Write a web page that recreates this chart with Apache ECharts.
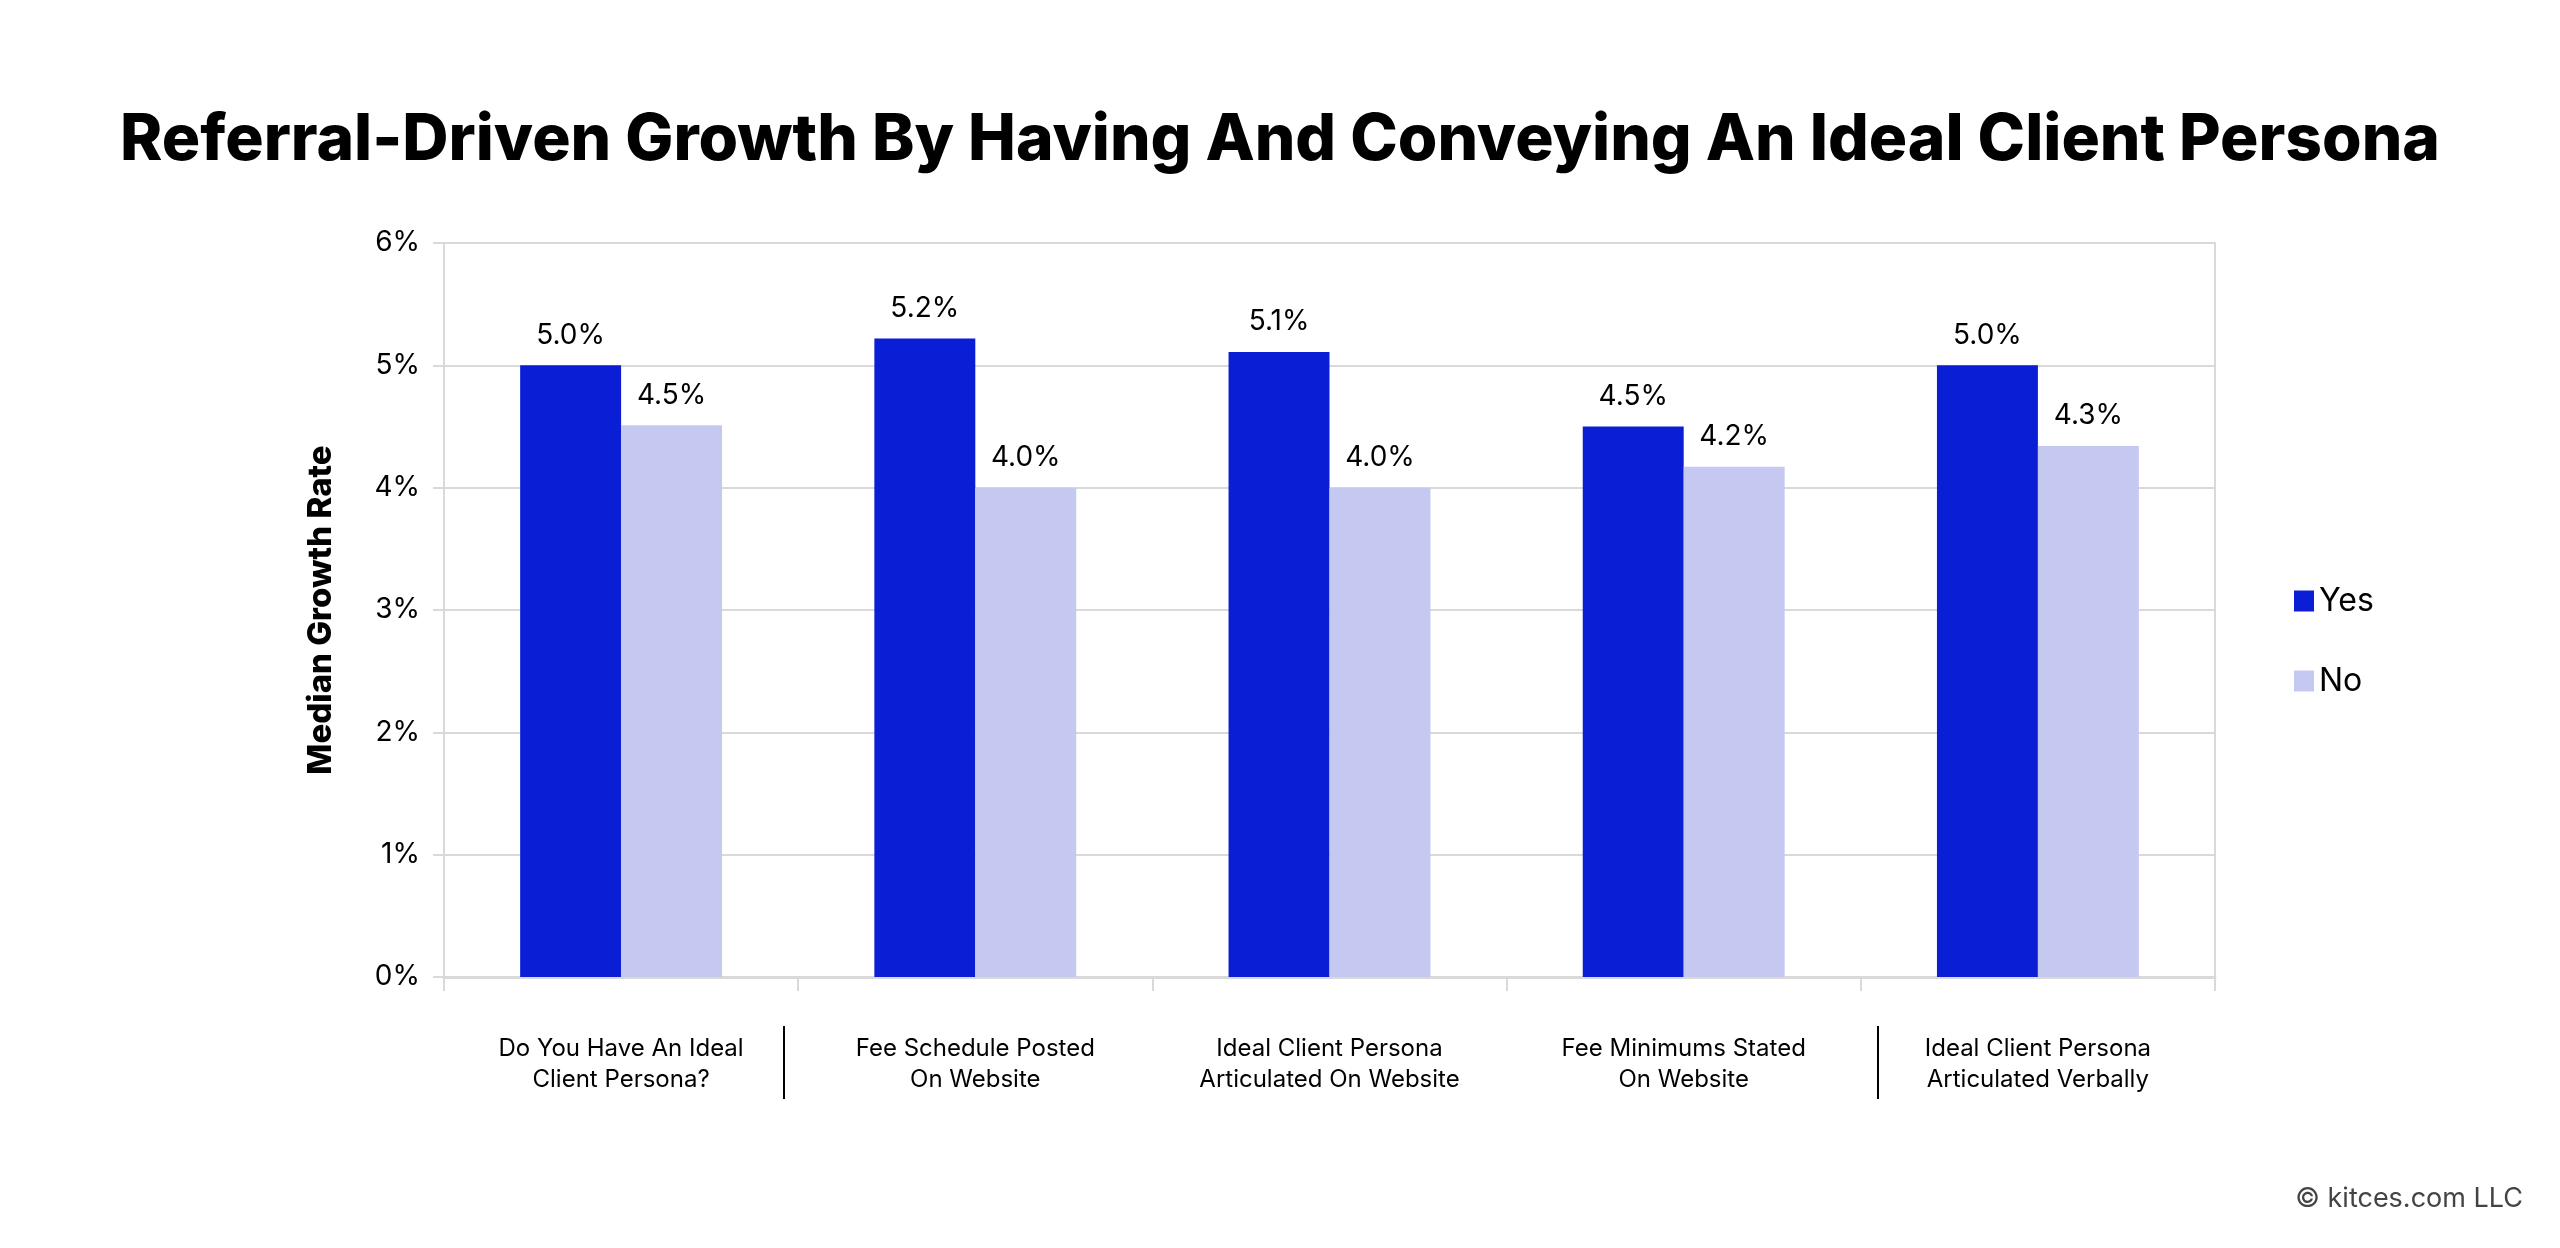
<!DOCTYPE html>
<html>
<head>
<meta charset="utf-8">
<title>Referral-Driven Growth</title>
<script src="https://cdn.jsdelivr.net/npm/echarts@6/dist/echarts.min.js"></script>
<style>
  html, body { margin: 0; padding: 0; background: #fff; }
  #chart { width: 2560px; height: 1248px; }
</style>
</head>
<body>
<div id="chart"></div>
<script>
// categories and values
const categories = [
  'Do You Have An Ideal\nClient Persona?',
  'Fee Schedule Posted\nOn Website',
  'Ideal Client Persona\nArticulated On Website',
  'Fee Minimums Stated\nOn Website',
  'Ideal Client Persona\nArticulated Verbally'
]
const yesValues = [5.0, 5.22, 5.11, 4.5, 5.0]
const noValues = [4.51, 4.0, 4.0, 4.17, 4.34]
const yTicks = [0, 1, 2, 3, 4, 5, 6]

const FONT = 'Inter, "Noto Sans", sans-serif'
const GRID_GRAY = '#d9d9d9'

let myChart = echarts.init(document.getElementById('chart'))

let barLabel = {
  show: true,
  position: 'top',
  distance: 16,
  color: '#000',
  fontFamily: FONT,
  fontSize: 28,
  formatter(p) {
    return p.value.toFixed(1) + '%'
  }
}

let option = {
  backgroundColor: '#fff',
  animation: false,
  title: {
    text: 'Referral-Driven Growth By Having And Conveying An Ideal Client Persona',
    left: 'center',
    top: 104,
    textStyle: {
      fontFamily: FONT,
      fontSize: 64,
      fontWeight: 800,
      color: '#000'
    }
  },
  legend: {
    orient: 'vertical',
    left: 2289,
    top: 580,
    itemWidth: 20,
    itemHeight: 21,
    itemGap: 48,
    icon: 'rect',
    textStyle: {
      fontFamily: FONT,
      fontSize: 32,
      color: '#000'
    },
    data: ['Yes', 'No']
  },
  grid: {
    left: 444,
    right: 345,
    top: 243,
    bottom: 271,
    show: true,
    borderColor: GRID_GRAY,
    borderWidth: 2
  },
  xAxis: {
    type: 'category',
    data: categories,
    axisLine: { lineStyle: { color: GRID_GRAY, width: 3 } },
    axisTick: { show: true, length: 14, lineStyle: { color: GRID_GRAY, width: 2 } },
    axisLabel: {
      margin: 56,
      fontFamily: FONT,
      fontSize: 24,
      lineHeight: 31,
      color: '#000',
      interval: 0
    }
  },
  yAxis: {
    type: 'value',
    min: yTicks[0],
    max: yTicks[yTicks.length - 1],
    interval: 1,
    name: 'Median Growth Rate',
    nameLocation: 'middle',
    nameGap: 106,
    nameRotate: 90,
    nameTextStyle: {
      fontFamily: FONT,
      fontSize: 33,
      fontWeight: 800,
      color: '#000'
    },
    axisLine: { show: true, lineStyle: { color: GRID_GRAY, width: 2 } },
    axisTick: { show: true, length: 11, lineStyle: { color: GRID_GRAY, width: 2 } },
    splitLine: { lineStyle: { color: GRID_GRAY, width: 2 } },
    axisLabel: {
      margin: 24,
      fontFamily: FONT,
      fontSize: 28,
      color: '#000',
      formatter: '{value}%'
    }
  },
  series: [
    {
      name: 'Yes',
      type: 'bar',
      data: yesValues,
      barGap: '0%',
      barCategoryGap: '43%',
      itemStyle: { color: '#0a1ed6' },
      label: barLabel
    },
    {
      name: 'No',
      type: 'bar',
      data: noValues,
      itemStyle: { color: '#c5c9f2' },
      label: barLabel
    }
  ],
  graphic: [
    // black separators between some category labels (as in the original)
    { type: 'line', shape: { x1: 784, y1: 1026, x2: 784, y2: 1099 }, style: { stroke: '#000', lineWidth: 2 } },
    { type: 'line', shape: { x1: 1878, y1: 1026, x2: 1878, y2: 1099 }, style: { stroke: '#000', lineWidth: 2 } },
    {
      type: 'text',
      right: 37,
      top: 1185,
      style: {
        text: '© kitces.com LLC',
        fontFamily: FONT,
        fontSize: 27,
        fill: '#444'
      }
    }
  ]
}
myChart.setOption(option)
</script>
</body>
</html>
